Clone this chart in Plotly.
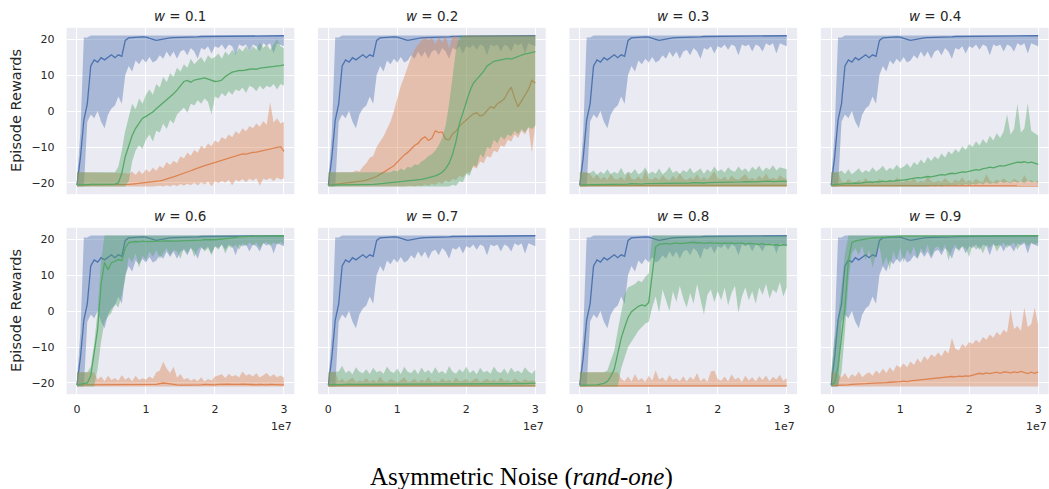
import plotly.graph_objects as go

W, H = 1049, 489

# training steps (millions), sampled every 0.5M
steps_m = [
    0.0, 0.5, 1.0, 1.5, 2.0, 2.5, 3.0, 3.5, 4.0, 4.5, 5.0,
    5.5, 6.0, 6.5, 7.0, 7.5, 8.0, 8.5, 9.0, 9.5, 10.0,
    10.5, 11.0, 11.5, 12.0, 12.5, 13.0, 13.5, 14.0, 14.5, 15.0,
    15.5, 16.0, 16.5, 17.0, 17.5, 18.0, 18.5, 19.0, 19.5, 20.0,
    20.5, 21.0, 21.5, 22.0, 22.5, 23.0, 23.5, 24.0, 24.5, 25.0,
    25.5, 26.0, 26.5, 27.0, 27.5, 28.0, 28.5, 29.0, 29.5, 30.0,
]

weights = ["0.1", "0.2", "0.3", "0.4", "0.6", "0.7", "0.8", "0.9"]

# ---- clean baseline (same in every panel) ----
blue_mean = [
    -20.6, -13.0, -2.5, 2.0, 12.5, 14.2, 13.6, 14.8, 14.2, 15.0, 15.6,
    14.8, 15.6, 15.2, 19.6, 20.3, 20.4, 20.5, 20.6, 20.6, 20.5,
    20.3, 19.9, 19.6, 19.8, 20.1, 20.2, 20.3, 20.4, 20.4, 20.5,
    20.5, 20.5, 20.6, 20.6, 20.6, 20.7, 20.7, 20.7, 20.7, 20.7,
    20.7, 20.8, 20.8, 20.8, 20.8, 20.8, 20.8, 20.8, 20.8, 20.8,
    20.8, 20.8, 20.9, 20.9, 20.9, 20.9, 20.9, 20.9, 20.9, 20.9,
]
blue_lo = [
    -21.0, -21.0, -21.0, -3.0, -1.0, -2.0, 0.0, -3.0, -4.8, -1.0, 0.7,
    1.5, 4.0, 2.0, 10.0, 12.5, 11.0, 14.0, 13.0, 14.5, 13.5,
    15.0, 13.5, 14.0, 15.5, 14.5, 16.5, 15.0, 16.5, 14.5, 16.5,
    17.0, 15.5, 17.5, 16.5, 14.5, 17.5, 17.0, 18.0, 16.0, 18.0,
    17.5, 18.5, 17.0, 18.5, 18.0, 15.5, 18.5, 18.0, 18.5, 16.5,
    18.5, 18.0, 16.5, 18.8, 18.2, 18.8, 16.0, 18.8, 18.3, 18.0,
]
blue_hi = [
    -19.5, -6.0, 20.4, 20.4, 21.0, 21.0, 21.0, 21.0, 21.0, 21.0, 21.0,
    21.0, 21.0, 21.0, 21.0, 21.0, 21.0, 21.0, 21.0, 21.0, 21.0,
    21.0, 21.0, 21.0, 21.0, 21.0, 21.0, 21.0, 21.0, 21.0, 21.0,
    21.0, 21.0, 21.0, 21.0, 21.0, 21.0, 21.0, 21.0, 21.0, 21.0,
    21.0, 21.0, 21.0, 21.0, 21.0, 21.0, 21.0, 21.0, 21.0, 21.0,
    21.0, 21.0, 21.0, 21.0, 21.0, 21.0, 21.0, 21.0, 21.0, 21.0,
]

# ---- w = 0.1 ----
orange_mean_01 = [
    -20.6, -20.6, -20.5, -20.6, -20.5, -20.5, -20.6, -20.5, -20.6, -20.5, -20.5,
    -20.5, -20.4, -20.5, -20.4, -20.4, -20.3, -20.2, -20.1, -20.0, -19.9,
    -19.9, -19.7, -19.6, -19.4, -19.2, -19.0, -18.6, -18.3, -18.0, -17.7,
    -17.3, -17.0, -16.6, -16.2, -15.8, -15.5, -15.2, -14.9, -14.6, -14.3,
    -14.0, -13.7, -13.3, -13.0, -12.6, -12.3, -12.1, -11.9, -12.0, -11.7,
    -11.5, -11.4, -11.2, -11.0, -10.8, -10.5, -10.4, -10.1, -9.9, -11.2,
]
orange_lo_01 = [
    -21.0, -21.0, -21.0, -21.0, -21.0, -21.0, -21.0, -21.0, -21.0, -21.0, -21.0,
    -21.0, -21.0, -21.0, -21.0, -21.0, -21.0, -21.0, -21.0, -21.0, -21.0,
    -21.0, -21.0, -21.0, -20.8, -21.0, -20.6, -21.0, -20.5, -20.9, -20.3,
    -20.8, -20.2, -20.6, -19.9, -20.7, -19.8, -20.4, -19.6, -20.9, -19.5,
    -20.1, -19.4, -19.9, -19.2, -20.6, -19.1, -19.6, -18.9, -19.8, -18.8,
    -19.4, -18.7, -20.8, -18.8, -19.2, -18.6, -19.5, -18.5, -19.0, -18.7,
]
orange_hi_01 = [
    -17.0, -17.0, -17.0, -17.0, -17.0, -17.0, -17.0, -17.0, -17.0, -17.0, -17.0,
    -17.0, -17.0, -17.0, -17.2, -17.5, -16.8, -17.8, -16.5, -17.6, -16.2,
    -17.0, -15.8, -16.6, -15.2, -15.9, -14.2, -15.0, -13.8, -14.5, -12.6,
    -13.2, -11.5, -12.4, -10.8, -11.6, -9.6, -10.5, -9.0, -9.8, -8.2,
    -8.8, -7.2, -7.9, -6.5, -7.3, -5.6, -6.4, -4.8, -5.6, -4.2,
    -4.8, -3.5, -4.4, -2.8, -3.8, 2.5, -3.2, -2.0, -3.5, -3.0,
]
green_mean_01 = [
    -20.4, -20.5, -20.4, -20.5, -20.4, -20.4, -20.5, -20.4, -20.3, -20.4, -20.3,
    -20.3, -20.0, -17.3, -12.7, -9.5, -6.8, -4.8, -3.2, -2.0, -1.5,
    -1.0, -0.3, 0.6, 1.4, 2.4, 3.2, 4.0, 4.8, 5.8, 7.0,
    8.2, 8.5, 8.0, 8.6, 8.9, 9.0, 9.2, 8.8, 8.5, 8.2,
    8.3, 8.6, 9.6, 10.2, 10.8, 11.0, 11.3, 11.2, 11.5, 11.6,
    11.7, 11.6, 11.9, 12.0, 12.2, 12.1, 12.3, 12.5, 12.6, 12.8,
]
green_lo_01 = [
    -21.0, -21.0, -21.0, -21.0, -21.0, -21.0, -21.0, -21.0, -21.0, -21.0, -21.0,
    -21.0, -21.0, -21.0, -21.0, -19.5, -14.0, -11.0, -9.5, -10.5, -8.0,
    -6.5, -8.5, -5.5, -6.0, -3.5, -5.0, -2.5, -3.5, -1.0, 0.0,
    1.0, -0.5, 2.0, 1.5, 3.0, 2.0, 3.5, 2.5, -1.0, 4.0,
    3.5, 5.0, 4.0, 5.5, 4.5, 6.0, 5.5, 6.5, 5.0, 7.0,
    6.5, 5.5, 7.0, 6.0, 7.0, 6.5, 7.5, 6.0, 7.5, 7.0,
]
green_hi_01 = [
    -17.0, -17.0, -17.0, -17.0, -17.0, -17.0, -17.0, -17.0, -17.0, -17.0, -17.0,
    -17.0, -15.5, -11.0, -5.5, -2.0, 2.0, 0.5, 3.5, 2.0, 4.5,
    6.0, 4.5, 7.5, 6.5, 9.5, 8.0, 10.5, 9.5, 12.0, 11.0,
    13.0, 12.0, 14.5, 13.0, 14.0, 15.0, 13.5, 15.5, 14.5, 15.0,
    16.0, 14.5, 16.5, 15.5, 17.0, 16.0, 17.5, 16.5, 18.0, 16.5,
    18.0, 17.0, 19.0, 17.5, 18.5, 17.0, 18.5, 20.0, 18.0, 17.5,
]

# ---- w = 0.2 ----
orange_mean_02 = [
    -20.6, -20.5, -20.4, -20.3, -20.2, -20.1, -20.0, -19.8, -19.7, -19.5, -19.4,
    -19.2, -18.9, -18.6, -18.2, -17.6, -17.0, -16.6, -15.8, -15.2, -14.2,
    -13.2, -12.2, -11.5, -10.6, -9.6, -9.0, -7.8, -7.2, -8.2, -7.6,
    -5.5, -6.0, -5.8, -7.8, -8.0, -6.4, -5.6, -4.2, -3.4, -2.6,
    -1.8, -0.8, -0.5, -1.4, -1.0, 0.2, 1.2, 0.8, 2.0, 2.6,
    3.4, 5.2, 6.6, 3.5, 1.2, 2.8, 4.5, 6.0, 8.5, 7.8,
]
orange_lo_02 = [
    -21.0, -21.0, -21.0, -21.0, -21.0, -21.0, -21.0, -21.0, -21.0, -21.0, -21.0,
    -21.0, -21.0, -21.0, -21.0, -21.0, -21.0, -21.0, -21.0, -21.0, -21.0,
    -21.0, -21.0, -21.0, -20.8, -21.0, -20.6, -20.9, -20.4, -20.8, -20.2,
    -20.5, -19.8, -20.3, -19.2, -19.8, -18.8, -19.2, -18.0, -18.5, -17.2,
    -17.0, -15.5, -16.0, -14.0, -14.5, -12.5, -13.0, -11.0, -11.5, -9.5,
    -10.0, -8.0, -8.5, -6.5, -7.5, -5.5, -6.5, -4.5, -11.5, -3.5,
]
orange_hi_02 = [
    -17.0, -17.0, -17.0, -17.0, -17.0, -17.0, -17.0, -17.0, -16.5, -16.8, -15.5,
    -14.5, -13.0, -12.5, -10.0, -8.5, -7.0, -5.0, -3.0, 0.0, 3.5,
    7.0, 9.5, 12.5, 15.0, 17.0, 18.5, 19.5, 20.5, 19.5, 20.5,
    18.5, 20.5, 19.0, 21.0, 17.5, 20.5, 21.0, 19.5, 21.0, 21.0,
    21.0, 21.0, 21.0, 21.0, 21.0, 21.0, 21.0, 21.0, 21.0, 21.0,
    21.0, 21.0, 21.0, 21.0, 21.0, 21.0, 21.0, 21.0, 21.0, 21.0,
]
green_mean_02 = [
    -20.6, -20.6, -20.5, -20.6, -20.5, -20.6, -20.5, -20.5, -20.6, -20.5, -20.5,
    -20.5, -20.4, -20.4, -20.3, -20.2, -20.1, -20.1, -20.0, -19.9, -19.8,
    -19.6, -19.7, -19.5, -19.4, -19.2, -19.3, -19.0, -18.8, -18.6, -18.3,
    -18.0, -17.6, -17.0, -16.0, -14.5, -12.0, -8.5, -3.5, -0.5, 3.0,
    5.5, 7.7, 8.8, 9.6, 11.0, 12.5, 13.2, 13.8, 14.0, 14.2,
    14.2, 14.6, 14.4, 14.8, 15.0, 15.6, 15.9, 16.0, 16.3, 16.5,
]
green_lo_02 = [
    -21.0, -21.0, -21.0, -21.0, -21.0, -21.0, -21.0, -21.0, -21.0, -21.0, -21.0,
    -21.0, -21.0, -21.0, -21.0, -21.0, -21.0, -21.0, -21.0, -21.0, -21.0,
    -21.0, -21.0, -21.0, -21.0, -21.0, -21.0, -21.0, -21.0, -21.0, -21.0,
    -21.0, -21.0, -21.0, -21.0, -21.0, -20.5, -20.8, -19.5, -19.8, -17.5,
    -18.0, -15.0, -15.5, -12.0, -13.0, -10.0, -10.5, -8.0, -9.0, -7.0,
    -8.0, -6.5, -7.0, -5.5, -6.5, -5.0, -6.0, -4.5, -5.0, -4.0,
]
green_hi_02 = [
    -17.0, -17.0, -17.0, -17.0, -17.0, -17.0, -17.0, -17.0, -17.0, -17.0, -17.0,
    -17.0, -17.0, -17.0, -17.0, -17.0, -17.0, -16.8, -17.0, -16.5, -16.8,
    -16.0, -16.5, -15.5, -15.8, -14.8, -15.0, -14.0, -13.5, -12.5, -12.0,
    -11.0, -9.5, -7.5, -4.0, 2.0, 10.0, 17.0, 21.0, 21.0, 21.0,
    21.0, 21.0, 21.0, 21.0, 21.0, 21.0, 21.0, 21.0, 21.0, 21.0,
    21.0, 21.0, 21.0, 21.0, 21.0, 21.0, 21.0, 21.0, 21.0, 21.0,
]

# ---- w = 0.3 ----
orange_mean_03 = [
    -20.7, -20.7, -20.6, -20.7, -20.7, -20.8, -20.7, -20.7, -20.6, -20.7, -20.7,
    -20.8, -20.7, -20.7, -20.6, -20.7, -20.8, -20.7, -20.6, -20.7, -20.7,
    -20.7, -20.8, -20.7, -20.7, -20.6, -20.7, -20.7, -20.8, -20.7, -20.6,
    -20.7, -20.7, -20.8, -20.7, -20.7, -20.6, -20.7, -20.7, -20.8, -20.7,
    -20.7, -20.6, -20.7, -20.8, -20.7, -20.7, -20.6, -20.7, -20.7, -20.8,
    -20.7, -20.7, -20.6, -20.7, -20.7, -20.8, -20.7, -20.7, -20.6, -20.7,
]
orange_lo_03 = [
    -21.0, -21.0, -21.0, -21.0, -21.0, -21.0, -21.0, -21.0, -21.0, -21.0, -21.0,
    -21.0, -21.0, -21.0, -21.0, -21.0, -21.0, -21.0, -21.0, -21.0, -21.0,
    -21.0, -21.0, -21.0, -21.0, -21.0, -21.0, -21.0, -21.0, -21.0, -21.0,
    -21.0, -21.0, -21.0, -21.0, -21.0, -21.0, -21.0, -21.0, -21.0, -21.0,
    -21.0, -21.0, -21.0, -21.0, -21.0, -21.0, -21.0, -21.0, -21.0, -21.0,
    -21.0, -21.0, -21.0, -21.0, -21.0, -21.0, -21.0, -21.0, -21.0, -21.0,
]
orange_hi_03 = [
    -17.0, -17.0, -17.0, -17.5, -18.8, -17.6, -19.0, -18.2, -19.2, -17.4, -18.9,
    -19.0, -18.3, -19.3, -17.0, -18.8, -19.1, -18.1, -19.2, -16.4, -18.9,
    -19.0, -18.4, -19.2, -17.8, -18.9, -19.3, -18.0, -19.1, -17.2, -18.8,
    -19.2, -18.5, -19.0, -17.6, -19.1, -18.3, -19.2, -18.0, -16.8, -18.7,
    -19.0, -18.2, -19.3, -17.9, -18.8, -19.1, -18.4, -17.5, -19.0, -18.6,
    -19.2, -18.0, -18.9, -17.3, -19.0, -18.5, -19.1, -17.8, -18.6, -18.9,
]
green_mean_03 = [
    -20.5, -20.5, -20.4, -20.5, -20.4, -20.4, -20.3, -20.4, -20.3, -20.3, -20.4,
    -20.3, -20.4, -20.3, -20.3, -20.2, -20.3, -20.2, -20.3, -20.2, -20.2,
    -20.2, -20.1, -20.2, -20.1, -20.2, -20.1, -20.0, -20.1, -20.0, -20.1,
    -20.0, -20.0, -19.9, -20.0, -19.9, -20.0, -19.9, -19.9, -19.8, -19.9,
    -19.8, -19.9, -19.8, -19.8, -19.7, -19.8, -19.7, -19.6, -19.7, -19.6,
    -19.7, -19.6, -19.5, -19.6, -19.5, -19.6, -19.5, -19.4, -19.5, -19.6,
]
green_lo_03 = [
    -21.0, -21.0, -21.0, -21.0, -21.0, -21.0, -21.0, -21.0, -21.0, -21.0, -21.0,
    -21.0, -21.0, -21.0, -21.0, -21.0, -21.0, -21.0, -21.0, -21.0, -21.0,
    -21.0, -21.0, -21.0, -21.0, -21.0, -21.0, -21.0, -21.0, -21.0, -21.0,
    -21.0, -21.0, -21.0, -21.0, -21.0, -21.0, -21.0, -21.0, -21.0, -21.0,
    -21.0, -21.0, -21.0, -21.0, -21.0, -21.0, -21.0, -21.0, -21.0, -21.0,
    -21.0, -21.0, -21.0, -21.0, -21.0, -21.0, -21.0, -21.0, -21.0, -21.0,
]
green_hi_03 = [
    -17.0, -17.0, -17.0, -17.2, -16.5, -17.8, -16.8, -17.5, -16.2, -17.6, -16.9,
    -17.4, -15.8, -17.7, -16.9, -17.3, -16.1, -17.6, -17.0, -15.6, -17.5,
    -16.8, -17.4, -16.0, -17.6, -16.9, -15.5, -17.2, -16.6, -17.5, -16.4,
    -17.0, -15.8, -17.3, -16.7, -16.0, -17.4, -16.2, -17.0, -15.4, -16.8,
    -16.2, -17.1, -15.6, -16.5, -16.9, -15.4, -16.6, -15.9, -17.0, -15.5,
    -16.4, -15.2, -16.8, -15.7, -16.3, -15.1, -16.5, -15.6, -15.9, -16.2,
]

# ---- w = 0.4 ----
orange_mean_04 = [
    -20.7, -20.7, -20.8, -20.7, -20.7, -20.8, -20.7, -20.8, -20.7, -20.7, -20.8,
    -20.7, -20.8, -20.7, -20.7, -20.8, -20.8, -20.7, -20.7, -20.8, -20.7,
    -20.8, -20.7, -20.7, -20.8, -20.7, -20.8, -20.8, -20.7, -20.7, -20.8,
    -20.7, -20.8, -20.7, -20.8, -20.7, -20.7, -20.8, -20.7, -20.8, -20.8,
    -20.7, -20.7, -20.8, -20.7, -20.6, -20.7, -20.8, -20.7, -20.7, -20.8,
    -20.7, -20.8, -20.7, -20.7, -20.8, -20.7, -20.7, -20.8, -20.7, -20.8,
]
orange_lo_04 = [
    -21.0, -21.0, -21.0, -21.0, -21.0, -21.0, -21.0, -21.0, -21.0, -21.0, -21.0,
    -21.0, -21.0, -21.0, -21.0, -21.0, -21.0, -21.0, -21.0, -21.0, -21.0,
    -21.0, -21.0, -21.0, -21.0, -21.0, -21.0, -21.0, -21.0, -21.0, -21.0,
    -21.0, -21.0, -21.0, -21.0, -21.0, -21.0, -21.0, -21.0, -21.0, -21.0,
    -21.0, -21.0, -21.0, -21.0, -21.0, -21.0, -21.0, -21.0, -21.0, -21.0,
    -21.0, -21.0, -21.0, -21.0, -21.0, -21.0, -21.0, -21.0, -21.0, -21.0,
]
orange_hi_04 = [
    -17.0, -17.0, -17.0, -19.5, -19.8, -18.9, -19.6, -19.9, -19.2, -19.7, -18.6,
    -19.8, -19.4, -19.9, -18.8, -19.6, -19.8, -19.1, -19.7, -18.5, -19.5,
    -19.8, -19.2, -19.6, -18.7, -19.9, -19.4, -19.7, -18.2, -19.5, -19.8,
    -19.3, -19.7, -18.6, -19.5, -19.9, -19.0, -19.6, -18.4, -19.7, -19.2,
    -19.8, -18.9, -19.5, -19.7, -17.6, -19.4, -19.8, -19.0, -19.6, -18.7,
    -19.5, -19.8, -18.8, -19.4, -19.7, -17.8, -19.5, -19.2, -19.8, -19.3,
]
green_mean_04 = [
    -20.5, -20.4, -20.4, -20.3, -20.2, -20.1, -20.2, -20.0, -20.1, -19.9, -19.8,
    -19.7, -19.8, -19.6, -19.7, -19.5, -19.6, -19.4, -19.5, -19.3, -19.2,
    -19.2, -19.0, -18.9, -18.7, -18.5, -18.6, -18.4, -18.2, -18.3, -18.0,
    -17.9, -17.7, -17.8, -17.5, -17.3, -17.4, -17.1, -16.9, -17.0, -16.7,
    -16.6, -16.3, -16.4, -16.0, -15.9, -15.6, -15.8, -15.4, -15.2, -15.3,
    -15.0, -14.8, -14.6, -14.2, -14.3, -14.1, -14.4, -14.2, -14.5, -14.8,
]
green_lo_04 = [
    -21.0, -21.0, -21.0, -21.0, -21.0, -21.0, -21.0, -21.0, -21.0, -21.0, -21.0,
    -21.0, -21.0, -21.0, -21.0, -21.0, -21.0, -21.0, -21.0, -21.0, -21.0,
    -21.0, -21.0, -21.0, -21.0, -21.0, -21.0, -21.0, -21.0, -20.8, -21.0,
    -20.7, -21.0, -20.6, -20.9, -20.5, -20.8, -20.4, -20.7, -20.3, -20.6,
    -20.2, -20.5, -20.0, -20.4, -19.8, -20.3, -19.9, -20.2, -19.6, -20.0,
    -19.7, -20.1, -19.5, -19.9, -19.6, -20.0, -19.4, -19.8, -19.7, -19.9,
]
green_hi_04 = [
    -17.0, -17.0, -17.0, -16.5, -17.5, -16.2, -17.6, -16.8, -15.9, -17.2, -16.4,
    -17.0, -15.6, -16.8, -16.2, -15.2, -16.7, -15.8, -16.3, -14.9, -16.0,
    -15.5, -14.6, -15.8, -14.2, -15.0, -13.5, -14.6, -12.8, -13.9, -12.6,
    -13.4, -11.8, -12.9, -11.2, -12.0, -10.6, -11.5, -9.8, -10.8, -9.2,
    -10.0, -8.4, -9.6, -7.8, -9.0, -6.9, -8.2, -6.2, -7.5, -5.6,
    -1.0, -6.5, -5.0, 2.0, -6.0, -4.8, 2.2, -5.5, -6.2, -6.8,
]

# ---- w = 0.6 ----
orange_mean_06 = [
    -20.5, -20.5, -20.4, -20.5, -20.6, -20.5, -20.4, -20.5, -20.5, -20.6, -20.5,
    -20.5, -20.6, -20.5, -20.4, -20.5, -20.5, -20.6, -20.5, -20.5, -20.4,
    -20.5, -20.5, -20.4, -20.2, -20.0, -20.1, -20.3, -20.4, -20.5, -20.6,
    -20.6, -20.7, -20.6, -20.7, -20.6, -20.5, -20.4, -20.5, -20.4, -20.5,
    -20.4, -20.3, -20.4, -20.3, -20.4, -20.5, -20.4, -20.3, -20.4, -20.5,
    -20.4, -20.5, -20.4, -20.5, -20.5, -20.4, -20.5, -20.4, -20.5, -20.5,
]
orange_lo_06 = [
    -21.0, -21.0, -21.0, -21.0, -21.0, -21.0, -21.0, -21.0, -21.0, -21.0, -21.0,
    -21.0, -21.0, -21.0, -21.0, -21.0, -21.0, -21.0, -21.0, -21.0, -21.0,
    -21.0, -21.0, -21.0, -21.0, -21.0, -21.0, -21.0, -21.0, -21.0, -21.0,
    -21.0, -21.0, -21.0, -21.0, -21.0, -21.0, -21.0, -21.0, -21.0, -21.0,
    -21.0, -21.0, -21.0, -21.0, -21.0, -21.0, -21.0, -21.0, -21.0, -21.0,
    -21.0, -21.0, -21.0, -21.0, -21.0, -21.0, -21.0, -21.0, -21.0, -21.0,
]
orange_hi_06 = [
    -17.0, -17.0, -17.0, -17.0, -17.0, -17.0, -19.0, -18.2, -19.5, -18.0, -19.2,
    -18.6, -19.4, -17.8, -19.1, -18.4, -19.5, -18.0, -19.2, -18.7, -19.0,
    -18.2, -18.8, -17.0, -16.5, -14.0, -16.0, -17.2, -15.5, -18.5, -17.5,
    -19.0, -18.6, -19.4, -18.8, -19.5, -18.4, -19.6, -18.9, -19.3, -18.2,
    -18.0, -17.6, -18.6, -17.4, -18.2, -17.8, -18.5, -16.8, -18.0, -17.5,
    -18.2, -17.3, -18.5, -17.8, -17.2, -18.3, -17.6, -18.4, -17.9, -18.5,
]
green_mean_06 = [
    -20.5, -20.4, -20.3, -20.0, -18.0, -11.0, -5.0, 7.5, 13.5, 11.5, 13.4,
    13.8, 14.3, 14.0, 17.5, 19.0, 19.2, 19.3, 19.2, 19.4, 19.3,
    19.3, 19.2, 19.4, 19.3, 19.4, 19.5, 19.4, 19.5, 19.4, 19.5,
    19.5, 19.6, 19.5, 19.7, 19.6, 19.7, 19.8, 19.7, 19.8, 19.8,
    19.9, 19.8, 19.9, 20.0, 20.2, 20.4, 20.6, 20.7, 20.8, 20.8,
    20.8, 20.8, 20.8, 20.9, 20.8, 20.9, 20.9, 20.9, 20.9, 20.9,
]
green_lo_06 = [
    -21.0, -21.0, -21.0, -21.0, -21.0, -21.0, -16.0, -8.5, -3.0, -1.5, -0.5,
    2.0, 1.0, 4.5, 9.0, 15.0, 13.5, 16.0, 12.0, 15.5, 14.0,
    16.5, 15.0, 17.0, 14.5, 16.0, 17.5, 15.5, 17.0, 16.5, 14.5,
    17.5, 16.0, 17.8, 15.0, 17.0, 18.0, 16.5, 17.5, 15.5, 18.0,
    17.0, 18.5, 16.0, 18.0, 17.5, 18.5, 17.0, 18.8, 18.0, 19.0,
    18.2, 19.0, 17.5, 18.8, 19.2, 18.0, 19.0, 18.5, 19.2, 18.5,
]
green_hi_06 = [
    -17.0, -17.0, -17.0, -17.0, -15.5, -9.0, 0.0, 14.0, 21.0, 21.0, 21.0,
    21.0, 21.0, 21.0, 21.0, 21.0, 21.0, 21.0, 21.0, 21.0, 21.0,
    21.0, 21.0, 21.0, 21.0, 21.0, 21.0, 21.0, 21.0, 21.0, 21.0,
    21.0, 21.0, 21.0, 21.0, 21.0, 21.0, 21.0, 21.0, 21.0, 21.0,
    21.0, 21.0, 21.0, 21.0, 21.0, 21.0, 21.0, 21.0, 21.0, 21.0,
    21.0, 21.0, 21.0, 21.0, 21.0, 21.0, 21.0, 21.0, 21.0, 21.0,
]

# ---- w = 0.7 ----
orange_mean_07 = [
    -20.8, -20.8, -20.7, -20.8, -20.8, -20.9, -20.8, -20.8, -20.7, -20.8, -20.8,
    -20.9, -20.8, -20.8, -20.7, -20.8, -20.8, -20.9, -20.8, -20.8, -20.8,
    -20.7, -20.8, -20.8, -20.9, -20.8, -20.8, -20.7, -20.8, -20.8, -20.9,
    -20.8, -20.8, -20.8, -20.7, -20.8, -20.9, -20.8, -20.8, -20.7, -20.8,
    -20.8, -20.8, -20.9, -20.8, -20.7, -20.8, -20.8, -20.9, -20.8, -20.8,
    -20.7, -20.8, -20.8, -20.8, -20.9, -20.8, -20.7, -20.8, -20.8, -20.8,
]
orange_lo_07 = [
    -21.0, -21.0, -21.0, -21.0, -21.0, -21.0, -21.0, -21.0, -21.0, -21.0, -21.0,
    -21.0, -21.0, -21.0, -21.0, -21.0, -21.0, -21.0, -21.0, -21.0, -21.0,
    -21.0, -21.0, -21.0, -21.0, -21.0, -21.0, -21.0, -21.0, -21.0, -21.0,
    -21.0, -21.0, -21.0, -21.0, -21.0, -21.0, -21.0, -21.0, -21.0, -21.0,
    -21.0, -21.0, -21.0, -21.0, -21.0, -21.0, -21.0, -21.0, -21.0, -21.0,
    -21.0, -21.0, -21.0, -21.0, -21.0, -21.0, -21.0, -21.0, -21.0, -21.0,
]
orange_hi_07 = [
    -17.0, -17.0, -17.0, -19.6, -18.8, -19.7, -19.2, -18.5, -19.8, -19.3, -19.6,
    -18.6, -19.7, -19.1, -19.8, -18.2, -19.5, -19.7, -18.9, -19.4, -19.8,
    -19.2, -18.4, -19.7, -19.5, -18.8, -19.8, -19.0, -19.6, -18.3, -19.7,
    -19.4, -19.8, -18.7, -19.5, -19.1, -19.8, -18.5, -19.6, -19.3, -18.9,
    -19.7, -19.2, -18.6, -19.8, -19.4, -18.8, -19.6, -19.0, -19.7, -18.4,
    -19.5, -19.1, -19.8, -18.7, -19.4, -19.7, -18.9, -19.5, -19.2, -19.6,
]
green_mean_07 = [
    -20.5, -20.4, -20.4, -20.5, -20.4, -20.4, -20.3, -20.4, -20.4, -20.3, -20.4,
    -20.4, -20.3, -20.4, -20.4, -20.3, -20.4, -20.4, -20.3, -20.4, -20.3,
    -20.4, -20.3, -20.4, -20.3, -20.3, -20.4, -20.3, -20.3, -20.4, -20.3,
    -20.3, -20.4, -20.3, -20.3, -20.2, -20.3, -20.3, -20.2, -20.3, -20.3,
    -20.2, -20.3, -20.3, -20.2, -20.3, -20.2, -20.2, -20.3, -20.2, -20.2,
    -20.2, -20.3, -20.2, -20.2, -20.1, -20.2, -20.2, -20.1, -20.2, -20.1,
]
green_lo_07 = [
    -21.0, -21.0, -21.0, -21.0, -21.0, -21.0, -21.0, -21.0, -21.0, -21.0, -21.0,
    -21.0, -21.0, -21.0, -21.0, -21.0, -21.0, -21.0, -21.0, -21.0, -21.0,
    -21.0, -21.0, -21.0, -21.0, -21.0, -21.0, -21.0, -21.0, -21.0, -21.0,
    -21.0, -21.0, -21.0, -21.0, -21.0, -21.0, -21.0, -21.0, -21.0, -21.0,
    -21.0, -21.0, -21.0, -21.0, -21.0, -21.0, -21.0, -21.0, -21.0, -21.0,
    -21.0, -21.0, -21.0, -21.0, -21.0, -21.0, -21.0, -21.0, -21.0, -21.0,
]
green_hi_07 = [
    -17.0, -17.0, -17.0, -16.8, -15.2, -17.2, -16.5, -17.6, -15.6, -16.9, -17.3,
    -16.2, -17.5, -15.8, -17.0, -16.6, -17.4, -15.4, -16.8, -17.2, -16.0,
    -17.5, -15.5, -16.9, -17.3, -16.1, -17.6, -15.7, -17.1, -16.4, -17.4,
    -15.6, -17.2, -16.7, -17.5, -15.3, -16.9, -17.4, -16.2, -17.0, -15.5,
    -17.3, -16.4, -17.6, -15.8, -17.1, -16.6, -17.4, -15.4, -16.9, -17.2,
    -16.0, -17.5, -15.7, -17.0, -16.5, -17.3, -15.6, -16.8, -17.4, -16.3,
]

# ---- w = 0.8 ----
orange_mean_08 = [
    -20.8, -20.8, -20.7, -20.8, -20.8, -20.8, -20.7, -20.8, -20.8, -20.9, -20.8,
    -20.8, -20.7, -20.8, -20.8, -20.8, -20.9, -20.8, -20.8, -20.7, -20.8,
    -20.8, -20.8, -20.9, -20.8, -20.7, -20.8, -20.8, -20.8, -20.7, -20.8,
    -20.8, -20.9, -20.8, -20.8, -20.7, -20.8, -20.8, -20.8, -20.9, -20.8,
    -20.8, -20.7, -20.8, -20.8, -20.8, -20.9, -20.8, -20.7, -20.8, -20.8,
    -20.8, -20.8, -20.7, -20.8, -20.8, -20.9, -20.8, -20.8, -20.7, -20.8,
]
orange_lo_08 = [
    -21.0, -21.0, -21.0, -21.0, -21.0, -21.0, -21.0, -21.0, -21.0, -21.0, -21.0,
    -21.0, -21.0, -21.0, -21.0, -21.0, -21.0, -21.0, -21.0, -21.0, -21.0,
    -21.0, -21.0, -21.0, -21.0, -21.0, -21.0, -21.0, -21.0, -21.0, -21.0,
    -21.0, -21.0, -21.0, -21.0, -21.0, -21.0, -21.0, -21.0, -21.0, -21.0,
    -21.0, -21.0, -21.0, -21.0, -21.0, -21.0, -21.0, -21.0, -21.0, -21.0,
    -21.0, -21.0, -21.0, -21.0, -21.0, -21.0, -21.0, -21.0, -21.0, -21.0,
]
orange_hi_08 = [
    -17.0, -17.0, -17.0, -17.0, -17.0, -17.0, -17.0, -17.0, -17.0, -17.0, -17.0,
    -17.0, -18.8, -19.5, -18.2, -19.6, -17.5, -19.3, -18.6, -19.7, -18.0,
    -19.4, -16.5, -19.0, -18.4, -19.6, -17.8, -19.2, -18.7, -19.5, -18.1,
    -19.6, -18.3, -19.1, -17.2, -19.5, -18.6, -19.7, -16.8, -16.5, -18.9,
    -19.4, -18.2, -19.6, -17.6, -19.0, -18.5, -19.7, -18.0, -19.3, -18.4,
    -19.6, -18.1, -19.2, -17.9, -19.5, -18.3, -19.0, -17.7, -19.4, -18.6,
]
green_mean_08 = [
    -20.6, -20.6, -20.5, -20.6, -20.5, -20.5, -20.3, -20.1, -19.6, -18.2, -16.2,
    -12.3, -7.6, -4.6, -1.8, -0.2, 0.6, 1.3, 1.7, 1.4, 2.4,
    9.5, 17.8, 18.5, 18.7, 18.8, 18.6, 18.8, 18.9, 18.7, 18.8,
    18.9, 18.8, 19.1, 18.9, 19.0, 18.8, 18.9, 19.0, 18.8, 18.9,
    18.7, 18.9, 18.8, 18.9, 18.7, 18.8, 18.9, 18.6, 18.8, 18.7,
    18.6, 18.5, 18.7, 18.4, 18.5, 18.3, 18.4, 18.2, 18.4, 18.3,
]
green_lo_08 = [
    -21.0, -21.0, -21.0, -21.0, -21.0, -21.0, -21.0, -21.0, -21.0, -21.0, -21.0,
    -21.0, -16.0, -13.0, -10.0, -8.5, -7.0, -5.5, -4.5, -3.5, -3.0,
    1.0, 4.0, -0.5, 6.0, 3.0, 0.0, 5.5, 2.5, 7.0, 3.5,
    1.0, 5.0, 2.0, 7.5, 3.0, -1.0, 4.5, 6.0, 2.5, 5.5,
    3.0, 6.5, 1.5, 5.0, 7.0, -0.5, 4.0, 6.5, 3.0, 5.5,
    2.0, 6.5, 4.5, 7.5, 3.5, 6.0, 5.0, 8.0, 4.0, 6.5,
]
green_hi_08 = [
    -17.0, -17.0, -17.0, -17.0, -17.0, -17.0, -17.0, -17.0, -16.5, -14.0, -11.0,
    -5.5, -1.0, 4.5, 6.5, 7.0, 7.5, 8.5, 8.0, 9.5, 10.5,
    21.0, 21.0, 21.0, 21.0, 21.0, 21.0, 21.0, 21.0, 21.0, 21.0,
    21.0, 21.0, 21.0, 21.0, 21.0, 21.0, 21.0, 21.0, 21.0, 21.0,
    21.0, 21.0, 21.0, 21.0, 21.0, 21.0, 21.0, 21.0, 21.0, 21.0,
    21.0, 21.0, 21.0, 21.0, 21.0, 21.0, 21.0, 21.0, 21.0, 21.0,
]

# ---- w = 0.9 ----
orange_mean_09 = [
    -20.7, -20.7, -20.6, -20.6, -20.5, -20.5, -20.4, -20.4, -20.3, -20.3, -20.2,
    -20.1, -20.1, -20.0, -20.0, -19.9, -19.9, -19.8, -19.8, -19.7, -19.6,
    -19.5, -19.6, -19.4, -19.3, -19.2, -19.1, -19.0, -18.9, -18.8, -18.7,
    -18.6, -18.5, -18.3, -18.4, -18.2, -18.3, -18.1, -18.2, -18.0, -18.1,
    -17.8, -17.6, -17.3, -17.5, -17.2, -17.4, -17.1, -17.0, -17.3, -16.9,
    -17.0, -17.2, -16.9, -17.1, -16.8, -17.2, -17.4, -17.0, -17.3, -16.9,
]
orange_lo_09 = [
    -21.0, -21.0, -21.0, -21.0, -21.0, -21.0, -21.0, -21.0, -21.0, -21.0, -21.0,
    -21.0, -21.0, -21.0, -21.0, -21.0, -21.0, -21.0, -21.0, -21.0, -21.0,
    -21.0, -21.0, -21.0, -21.0, -21.0, -21.0, -21.0, -21.0, -21.0, -21.0,
    -21.0, -21.0, -21.0, -21.0, -21.0, -21.0, -21.0, -21.0, -21.0, -21.0,
    -21.0, -21.0, -21.0, -21.0, -21.0, -21.0, -21.0, -21.0, -21.0, -21.0,
    -21.0, -21.0, -21.0, -21.0, -21.0, -21.0, -21.0, -21.0, -21.0, -21.0,
]
orange_hi_09 = [
    -17.0, -17.0, -17.5, -18.5, -17.2, -18.8, -17.5, -18.2, -16.8, -18.4, -17.6,
    -17.0, -18.0, -16.5, -17.4, -16.0, -17.2, -15.6, -16.8, -15.0, -15.8,
    -14.5, -15.6, -14.0, -15.0, -13.2, -14.4, -12.5, -13.6, -12.0, -12.8,
    -11.5, -12.6, -10.8, -11.8, -7.5, -10.5, -11.0, -9.2, -10.0, -8.6,
    -9.2, -8.0, -8.8, -7.2, -8.0, -6.5, -7.4, -5.8, -6.8, -5.2,
    -6.0, 0.5, -5.0, -4.2, -5.5, 1.0, -4.5, -3.6, 1.0, -3.8,
]
green_mean_09 = [
    -20.6, -19.8, -15.5, -8.0, 1.0, 14.0, 19.0, 19.5, 19.7, 19.9, 20.1,
    20.2, 20.3, 20.3, 20.4, 20.5, 20.6, 20.6, 20.7, 20.7, 20.8,
    20.8, 20.8, 20.8, 20.8, 20.8, 20.8, 20.9, 20.8, 20.8, 20.9,
    20.8, 20.9, 20.8, 20.9, 20.9, 20.8, 20.9, 20.9, 20.9, 20.9,
    20.9, 20.9, 20.9, 20.9, 20.9, 20.9, 20.9, 20.9, 20.9, 20.9,
    20.9, 20.9, 20.9, 20.9, 20.9, 20.9, 20.9, 20.9, 20.9, 20.9,
]
green_lo_09 = [
    -21.0, -21.0, -21.0, -17.0, -6.0, 8.0, 16.0, 17.5, 15.5, 18.0, 14.0,
    17.0, 12.0, 16.0, 18.0, 12.5, 15.0, 11.5, 16.5, 14.0, 17.5,
    13.5, 17.0, 15.5, 18.0, 14.5, 17.5, 16.0, 18.5, 15.0, 17.5,
    18.0, 16.5, 18.5, 14.0, 17.0, 18.5, 16.5, 18.0, 17.5, 15.0,
    18.5, 17.0, 18.0, 16.0, 18.5, 17.5, 18.8, 16.5, 18.0, 19.0,
    17.5, 18.5, 19.0, 17.0, 18.8, 19.2, 18.0, 19.0, 18.5, 19.0,
]
green_hi_09 = [
    -17.0, -8.0, -2.0, 8.0, 16.0, 21.0, 21.0, 21.0, 21.0, 21.0, 21.0,
    21.0, 21.0, 21.0, 21.0, 21.0, 21.0, 21.0, 21.0, 21.0, 21.0,
    21.0, 21.0, 21.0, 21.0, 21.0, 21.0, 21.0, 21.0, 21.0, 21.0,
    21.0, 21.0, 21.0, 21.0, 21.0, 21.0, 21.0, 21.0, 21.0, 21.0,
    21.0, 21.0, 21.0, 21.0, 21.0, 21.0, 21.0, 21.0, 21.0, 21.0,
    21.0, 21.0, 21.0, 21.0, 21.0, 21.0, 21.0, 21.0, 21.0, 21.0,
]

orange_runs = [
    (orange_mean_01, orange_lo_01, orange_hi_01),
    (orange_mean_02, orange_lo_02, orange_hi_02),
    (orange_mean_03, orange_lo_03, orange_hi_03),
    (orange_mean_04, orange_lo_04, orange_hi_04),
    (orange_mean_06, orange_lo_06, orange_hi_06),
    (orange_mean_07, orange_lo_07, orange_hi_07),
    (orange_mean_08, orange_lo_08, orange_hi_08),
    (orange_mean_09, orange_lo_09, orange_hi_09),
]
green_runs = [
    (green_mean_01, green_lo_01, green_hi_01),
    (green_mean_02, green_lo_02, green_hi_02),
    (green_mean_03, green_lo_03, green_hi_03),
    (green_mean_04, green_lo_04, green_hi_04),
    (green_mean_06, green_lo_06, green_hi_06),
    (green_mean_07, green_lo_07, green_hi_07),
    (green_mean_08, green_lo_08, green_hi_08),
    (green_mean_09, green_lo_09, green_hi_09),
]

BLUE = "#4C72B0"
ORANGE = "#DD8452"
GREEN = "#55A868"
BAND_ALPHA = 0.42
BG = "#EAEAF2"
TXT = "#262626"
FONT = "DejaVu Sans"


def rgba(hex_color, a):
    h = hex_color.lstrip("#")
    r, g, b = int(h[0:2], 16), int(h[2:4], 16), int(h[4:6], 16)
    return f"rgba({r},{g},{b},{a})"


steps = [s * 1e6 for s in steps_m]

fig = go.Figure()


def add_series(idx, color, mean, lo, hi):
    ax = "" if idx == 0 else str(idx + 1)
    fig.add_trace(go.Scatter(
        x=steps + steps[::-1], y=hi + lo[::-1],
        fill="toself", fillcolor=rgba(color, BAND_ALPHA),
        line=dict(width=0), mode="lines", hoverinfo="skip",
        xaxis="x" + ax, yaxis="y" + ax, showlegend=False,
    ))
    fig.add_trace(go.Scatter(
        x=steps, y=mean, mode="lines",
        line=dict(color=color, width=1.3),
        xaxis="x" + ax, yaxis="y" + ax, showlegend=False,
    ))


# panel geometry (pixels)
PANEL_W = 227.7
PANEL_H = 166.3
LEFTS = [66.6 + 251.4 * c for c in range(4)]
TOPS = [27.85, 227.85]

layout_axes = {}
annotations = []
for i, w in enumerate(weights):
    r, c = divmod(i, 4)
    add_series(i, BLUE, blue_mean, blue_lo, blue_hi)
    om, ol, oh = orange_runs[i]
    add_series(i, ORANGE, om, ol, oh)
    gm, gl, gh = green_runs[i]
    add_series(i, GREEN, gm, gl, gh)

    left = LEFTS[c]
    right = left + PANEL_W
    top = TOPS[r]
    bottom = top + PANEL_H
    sfx = "" if i == 0 else str(i + 1)
    layout_axes["xaxis" + sfx] = dict(
        domain=[left / W, right / W], anchor="y" + sfx,
        range=[-1.5e6, 31.5e6],
        tickvals=[0, 1e7, 2e7, 3e7], ticktext=["0", "1", "2", "3"],
        showticklabels=(r == 1), ticklabelstandoff=7,
        showgrid=True, gridcolor="white", gridwidth=1.2,
        zeroline=False, showline=False, ticks="",
        tickfont=dict(family=FONT, size=11, color=TXT),
    )
    layout_axes["yaxis" + sfx] = dict(
        domain=[1 - bottom / H, 1 - top / H], anchor="x" + sfx,
        range=[-23.1, 23.1],
        tickvals=[-20, -10, 0, 10, 20],
        showticklabels=(c == 0), ticklabelstandoff=11,
        showgrid=True, gridcolor="white", gridwidth=1.2,
        zeroline=False, showline=False, ticks="",
        tickfont=dict(family=FONT, size=11, color=TXT),
    )
    # panel title
    annotations.append(dict(
        text=f"<i>w</i> = {w}", xref="paper", yref="paper",
        x=(left + right) / 2 / W, y=1 - (top - 11.5) / H,
        xanchor="center", yanchor="middle", showarrow=False,
        font=dict(family=FONT, size=13.5, color=TXT),
    ))
    if r == 1:
        annotations.append(dict(
            text="1e7", xref="paper", yref="paper",
            x=right / W, y=1 - 426 / H,
            xanchor="right", yanchor="middle", showarrow=False,
            font=dict(family=FONT, size=11, color=TXT),
        ))
    if c == 0:
        annotations.append(dict(
            text="Episode Rewards", xref="paper", yref="paper",
            x=16 / W, y=1 - (top + PANEL_H / 2) / H,
            xanchor="center", yanchor="middle", textangle=-90,
            showarrow=False,
            font=dict(family=FONT, size=14.5, color=TXT),
        ))

annotations.append(dict(
    text="Asymmetric Noise (<i>rand-one</i>)", xref="paper", yref="paper",
    x=521 / W, y=1 - 477 / H, xanchor="center", yanchor="middle",
    showarrow=False,
    font=dict(family="Liberation Serif", size=25, color="black"),
))

fig.update_layout(
    width=W, height=H,
    margin=dict(l=0, r=0, t=0, b=0),
    paper_bgcolor="white", plot_bgcolor=BG,
    showlegend=False, annotations=annotations,
    **layout_axes,
)

fig.write_html("out.html")
